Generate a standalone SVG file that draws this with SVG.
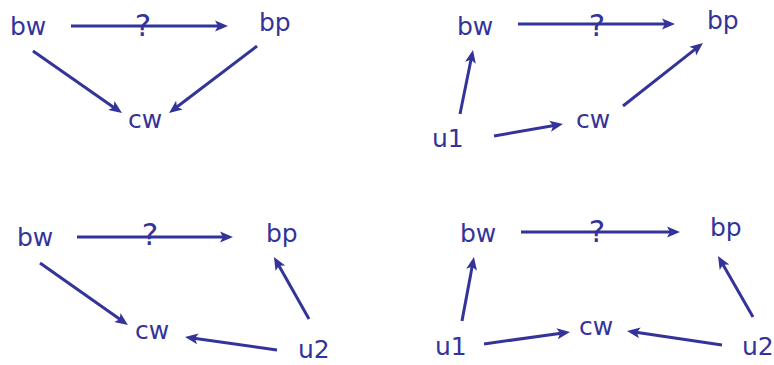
<svg xmlns="http://www.w3.org/2000/svg" width="774" height="365" viewBox="0 0 774 365">
<style>
.t{font-family:"DejaVu Sans","Verdana",sans-serif;font-size:25px;fill:#333399}
.q{text-anchor:middle;font-size:31px}
.c line{stroke:#333399;stroke-width:3;marker-end:url(#ah)}
</style>
<defs>
<marker id="ah" markerUnits="userSpaceOnUse" markerWidth="13" markerHeight="11" refX="4" refY="5.5" orient="auto" overflow="visible">
<path d="M0,0 L13,5.5 L0,11 L3,5.5 z" fill="#333399"/>
</marker>
</defs>
<rect width="774" height="365" fill="#fff"/>
<g id="connectors" class="c">
<line x1="71" y1="26" x2="219" y2="26"/>
<line x1="33" y1="51" x2="114.6" y2="107.9"/>
<line x1="257" y1="46" x2="176.2" y2="107.5"/>
<line x1="518" y1="24" x2="666" y2="24"/>
<line x1="460" y1="114" x2="471.2" y2="58.8"/>
<line x1="494" y1="136" x2="554.1" y2="125.6"/>
<line x1="623" y1="106" x2="695.9" y2="48.6"/>
<line x1="77" y1="237" x2="224" y2="237"/>
<line x1="40" y1="263" x2="120.6" y2="319.8"/>
<line x1="309" y1="319" x2="278.4" y2="264.8"/>
<line x1="277" y1="350" x2="193.9" y2="338.3"/>
<line x1="521" y1="232" x2="671" y2="232"/>
<line x1="462" y1="321" x2="472.3" y2="265.8"/>
<line x1="484" y1="344" x2="561.1" y2="333.2"/>
<line x1="753" y1="317" x2="722.5" y2="263.8"/>
<line x1="722" y1="345" x2="635.9" y2="332.3"/>
</g>
<g id="labels">
<text class="t q" x="143" y="36">?</text>
<text class="t q" x="597" y="36">?</text>
<text class="t q" x="150" y="245">?</text>
<text class="t q" x="597" y="242">?</text>
</g>
<g id="p1-bw"><text class="t" x="10" y="35">bw</text></g>
<g id="p1-bp"><text class="t" x="259" y="31">bp</text></g>
<g id="p1-cw"><text class="t" x="128" y="128">cw</text></g>
<g id="p2-bw"><text class="t" x="457" y="35">bw</text></g>
<g id="p2-bp"><text class="t" x="707" y="29">bp</text></g>
<g id="p2-cw"><text class="t" x="576" y="128">cw</text></g>
<g id="p2-u1"><text class="t" x="432" y="147">u1</text></g>
<g id="p3-bw"><text class="t" x="17" y="246">bw</text></g>
<g id="p3-bp"><text class="t" x="266" y="242">bp</text></g>
<g id="p3-cw"><text class="t" x="135" y="339">cw</text></g>
<g id="p3-u2"><text class="t" x="298" y="358">u2</text></g>
<g id="p4-bw"><text class="t" x="460" y="242">bw</text></g>
<g id="p4-bp"><text class="t" x="710" y="236">bp</text></g>
<g id="p4-cw"><text class="t" x="579" y="335">cw</text></g>
<g id="p4-u1"><text class="t" x="435" y="355">u1</text></g>
<g id="p4-u2"><text class="t" x="742" y="355">u2</text></g>
</svg>
